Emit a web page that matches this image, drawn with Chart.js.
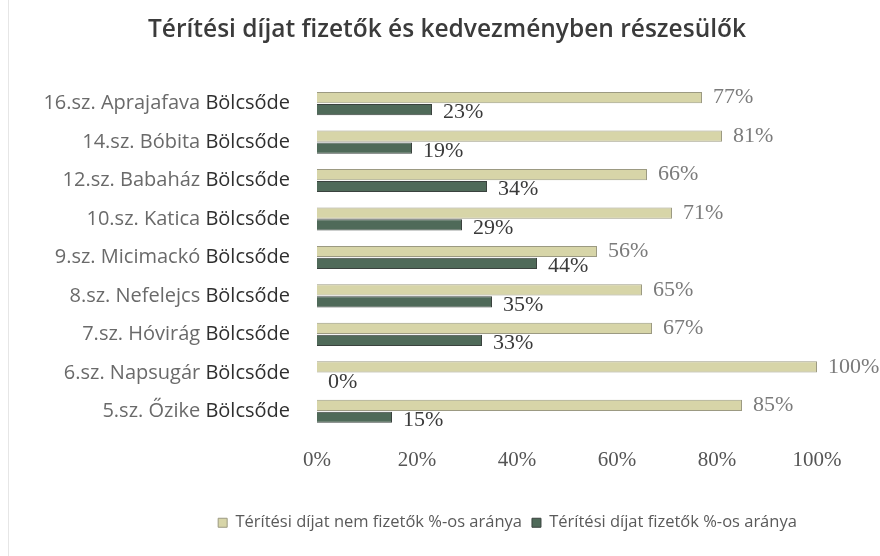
<!DOCTYPE html>
<html><head><meta charset="utf-8">
<script src="https://cdn.jsdelivr.net/npm/chart.js@4/dist/chart.umd.min.js"></script>
<style>html,body{margin:0;padding:0;background:#fff}#wrap{width:880px;height:556px;position:relative}</style>
</head><body><div id="wrap"><canvas id="c" width="880" height="556"></canvas></div>
<script>
const chartTitle = 'Térítési díjat fizetők és kedvezményben részesülők';
const categories = ['16.sz. Aprajafava Bölcsőde', '14.sz. Bóbita Bölcsőde', '12.sz. Babaház Bölcsőde', '10.sz. Katica Bölcsőde', '9.sz. Micimackó Bölcsőde', '8.sz. Nefelejcs Bölcsőde', '7.sz. Hóvirág Bölcsőde', '6.sz. Napsugár Bölcsőde', '5.sz. Őzike Bölcsőde'];
const seriesNames = ['Térítési díjat nem fizetők %-os aránya', 'Térítési díjat fizetők %-os aránya'];
const nemFizetok = [77, 81, 66, 71, 56, 65, 67, 100, 85];
const fizetok = [23, 19, 34, 29, 44, 35, 33, 0, 15];
const xTickValues = [0, 20, 40, 60, 80, 100];

const PAD_LEFT = 148;
const PLOT_LEFT = 317;

const valueLabels = {
  id: 'valueLabels',
  afterDatasetsDraw(chart) {
    const ctx = chart.ctx;
    ctx.save();
    ctx.font = '22px "Liberation Serif", "Times New Roman", serif';
    ctx.textBaseline = 'middle';
    ctx.textAlign = 'left';
    chart.data.datasets.forEach((ds, di) => {
      const meta = chart.getDatasetMeta(di);
      ctx.fillStyle = di === 0 ? '#7b7b7b' : '#3a3a3a';
      meta.data.forEach((el, i) => {
        ctx.fillText(ds.data[i] + '%', el.x + 11, el.y + (di === 0 ? 0 : 3));
      });
    });
    ctx.restore();
  }
};

const yLabels = {
  id: 'yLabels',
  afterDraw(chart) {
    const ctx = chart.ctx;
    const ys = chart.scales.y;
    ctx.save();
    ctx.font = '20px "Open Sans", sans-serif';
    ctx.textBaseline = 'middle';
    ctx.textAlign = 'right';
    const right = 290;
    categories.forEach((lab, i) => {
      const y = ys.getPixelForTick(i);
      const idx = lab.lastIndexOf(' ');
      const pre = lab.slice(0, idx + 1);
      const last = lab.slice(idx + 1);
      ctx.fillStyle = '#2f2f2f';
      ctx.fillText(last, right, y);
      const w = ctx.measureText(last).width;
      ctx.fillStyle = '#6a6a6a';
      ctx.fillText(pre, right - w, y);
    });
    ctx.strokeStyle = '#e6e6e6';
    ctx.lineWidth = 1;
    ctx.beginPath();
    ctx.moveTo(8.5, 0);
    ctx.lineTo(8.5, 556);
    ctx.stroke();
    ctx.restore();
  }
};

new Chart(document.getElementById('c'), {
  type: 'bar',
  data: {
    labels: categories,
    datasets: [
      { label: seriesNames[0], data: nemFizetok, backgroundColor: '#d7d5a8', borderColor: '#9c9a82', borderWidth: 1, categoryPercentage: 0.62, barPercentage: 0.94 },
      { label: seriesNames[1], data: fizetok, backgroundColor: '#4f6a59', borderColor: '#3a423e', borderWidth: 1, categoryPercentage: 0.62, barPercentage: 0.94 }
    ]
  },
  options: {
    indexAxis: 'y',
    responsive: false,
    devicePixelRatio: 1,
    animation: false,
    layout: { padding: { left: PAD_LEFT, right: 13, top: 0, bottom: 15 } },
    scales: {
      x: {
        min: 0, max: 110,
        grid: { display: false, drawTicks: false },
        border: { display: false },
        afterFit(s) { s.height = 74; },
        afterBuildTicks(s) { s.ticks = xTickValues.map(v => ({ value: v })); },
        ticks: {
          padding: 17,
          color: '#555555',
          font: { family: '"Liberation Serif", "Times New Roman", serif', size: 21 },
          callback: v => v + '%'
        }
      },
      y: {
        grid: { display: false, drawTicks: false },
        border: { display: false },
        ticks: { display: false },
        afterFit(s) { s.width = PLOT_LEFT - PAD_LEFT; }
      }
    },
    plugins: {
      title: {
        display: true, text: chartTitle, align: 'start', color: '#3b3b3b',
        font: { family: '"Open Sans", sans-serif', size: 24.5, weight: '600' },
        padding: { top: 15, bottom: 40 }
      },
      legend: {
        position: 'bottom', align: 'center',
        labels: {
          boxWidth: 9, boxHeight: 9, padding: 10, color: '#5a5a5a',
          font: { family: '"Open Sans", sans-serif', size: 16.5 }
        }
      },
      tooltip: { enabled: false }
    }
  },
  plugins: [valueLabels, yLabels]
});
</script>
</body></html>
